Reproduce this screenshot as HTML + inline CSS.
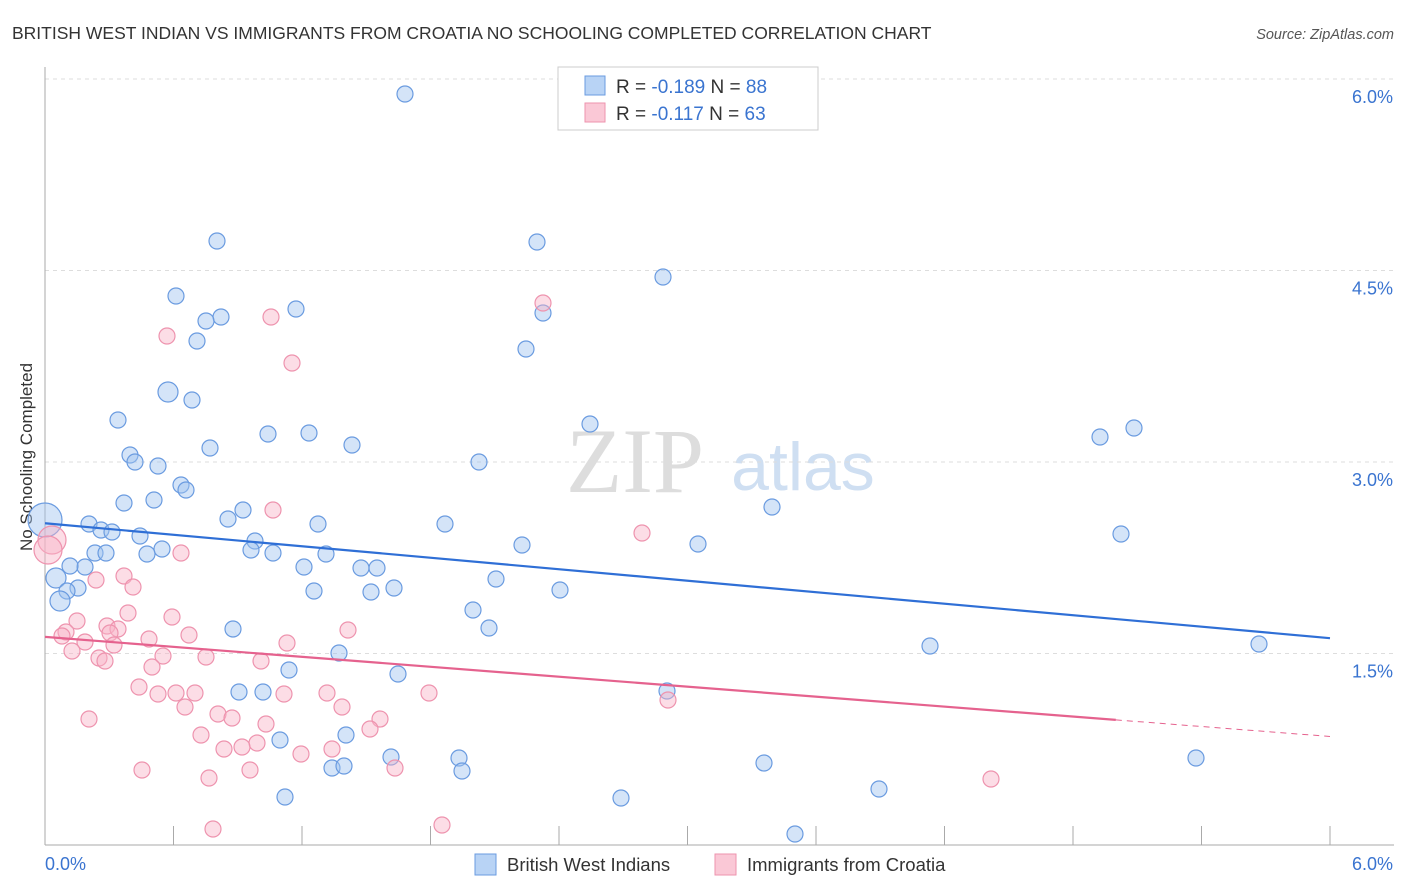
<!DOCTYPE html>
<html><head><meta charset="utf-8"><style>
body{margin:0;background:#fff;font-family:"Liberation Sans",sans-serif;}
svg{display:block}
</style></head><body>
<svg id="chart" width="1406" height="892">
<text x="12" y="39" font-size="17.5" fill="#333">BRITISH WEST INDIAN VS IMMIGRANTS FROM CROATIA NO SCHOOLING COMPLETED CORRELATION CHART</text>
<text x="1394" y="39" font-size="14.5" fill="#555" font-style="italic" text-anchor="end">Source: ZipAtlas.com</text>
<text x="32" y="457" font-size="17" fill="#333" text-anchor="middle" transform="rotate(-90 32 457)">No Schooling Completed</text>
<g><text x="635" y="492" font-size="92" fill="#ddd" font-family="Liberation Serif" text-anchor="middle">ZIP</text><text x="803" y="490" font-size="68" fill="#cfdff2" text-anchor="middle">atlas</text></g>
<g id="grid"></g><g id="axes"></g><g id="pts"></g><g id="trend"></g>
<g>
<rect x="558" y="67" width="260" height="63" fill="#fff" stroke="#ccc"/>
<rect x="585" y="76" width="20" height="19" fill="#b8d3f5" stroke="#6a9be0"/>
<rect x="585" y="103" width="20" height="19" fill="#fac8d6" stroke="#ee93ae"/>
<text x="616" y="93" font-size="19" fill="#333">R = <tspan fill="#3a74d0">-0.189</tspan>   N = <tspan fill="#3a74d0">88</tspan></text>
<text x="616" y="120" font-size="19" fill="#333">R =  <tspan fill="#3a74d0">-0.117</tspan>   N = <tspan fill="#3a74d0">63</tspan></text>
</g>
<g>
<rect x="475" y="854" width="21" height="21" fill="#b8d3f5" stroke="#6a9be0"/>
<text x="507" y="871" font-size="18.5" fill="#333">British West Indians</text>
<rect x="715" y="854" width="21" height="21" fill="#fac8d6" stroke="#ee93ae"/>
<text x="747" y="871" font-size="18.5" fill="#333">Immigrants from Croatia</text>
</g>
</svg>
<script>
const yTicks=[1.5,3.0,4.5,6.0];
const xTickLabels=["0.0%","6.0%"];
const blueX=[405,217,537,663,176,296,221,206,543,197,526,168,192,118,590,268,309,210,352,130,135,158,479,1100,1134,181,186,124,154,243,228,772,318,445,89,101,112,140,1121,255,522,698,162,251,273,95,106,147,326,304,361,377,85,70,496,56,78,67,314,371,394,560,60,473,489,233,930,1259,339,289,398,667,239,263,346,280,391,459,764,1196,332,344,462,285,621,879,795,45].map(p=>(p-45)/1285*6);
const blueY=[94,241,242,277,296,309,317,321,313,341,349,392,400,420,424,434,433,448,445,455,462,466,462,437,428,485,490,503,500,510,519,507,524,524,524,530,532,536,534,541,545,544,549,550,553,553,553,554,554,567,568,568,567,566,579,578,588,591,591,592,588,590,601,610,628,629,646,644,653,670,674,691,692,692,735,740,757,758,763,758,768,766,771,797,798,789,834,520].map(p=>(845-p)/127.67);
const pinkX=[543,271,167,292,273,642,181,52,48,124,96,133,128,172,77,107,118,66,62,110,189,149,85,287,348,72,114,163,99,105,206,152,261,139,158,176,195,185,284,327,429,342,668,89,218,232,380,266,201,370,257,224,242,332,301,142,250,395,209,991,213,442].map(p=>(p-45)/1285*6);
const pinkY=[303,317,336,363,510,533,553,540,550,576,580,587,613,617,621,626,629,632,636,633,635,639,642,643,630,651,645,656,658,661,657,667,661,687,694,693,693,707,694,693,693,707,700,719,714,718,719,724,735,729,743,749,747,749,754,770,770,768,778,779,829,825].map(p=>(845-p)/127.67);
const blueTrend=[2.52,1.62], pinkTrend=[1.63,0.85];
const X=v=>45+v/6*1285, Y=v=>845-v*127.67;
const ns="http://www.w3.org/2000/svg";
function mk(t,a,par){const e=document.createElementNS(ns,t);for(const k in a)e.setAttribute(k,a[k]);document.getElementById(par).appendChild(e);return e;}
yTicks.forEach(v=>{
 const l=mk('line',{x1:45,x2:1394,y1:Y(v),y2:Y(v),stroke:'#ddd','stroke-dasharray':'4,4'},'grid');
 
 
 const t=mk('text',{x:1393,y:Y(v)+24,'font-size':18,fill:'#3a74d0','text-anchor':'end'},'grid');
 t.textContent=v.toFixed(1)+'%';
 
 
});
mk('line',{x1:45,x2:45,y1:67,y2:845,stroke:'#aaa'},'axes');
mk('line',{x1:45,x2:1394,y1:845,y2:845,stroke:'#aaa'},'axes');
for(let i=1;i<=10;i++){const x=X(i*0.6);mk('line',{x1:x,x2:x,y1:826,y2:845,stroke:'#aaa'},'axes');}
xTickLabels.forEach((s,i)=>{const t=mk('text',{x:i?1393:45,y:870,'font-size':18,fill:'#3a74d0','text-anchor':i?'end':'start'},'axes');t.textContent=s;
 
 });
blueX.forEach((v,i)=>{const r=i==blueX.length-1?17:(i==11||i==55||i==62?10:8);
 const c=mk('circle',{cx:X(v),cy:Y(blueY[i]),r:r,fill:'rgba(160,196,240,0.45)',stroke:'#6a9be0','stroke-width':1.2},'pts');
 
 });
pinkX.forEach((v,i)=>{const r=(i==7||i==8)?14:8;
 const c=mk('circle',{cx:X(v),cy:Y(pinkY[i]),r:r,fill:'rgba(248,180,200,0.45)',stroke:'#ee93ae','stroke-width':1.2},'pts');
 
 });
const bt=mk('line',{x1:X(0),y1:Y(blueTrend[0]),x2:X(6),y2:Y(blueTrend[1]),stroke:'#2f6fd6','stroke-width':2.2},'trend');


const pm=pinkTrend[0]+(pinkTrend[1]-pinkTrend[0])*(5/6);
const pt=mk('line',{x1:X(0),y1:Y(pinkTrend[0]),x2:X(5),y2:Y(pm),stroke:'#e5628e','stroke-width':2.2},'trend');


const pd=mk('line',{x1:X(5),y1:Y(pm),x2:X(6),y2:Y(pinkTrend[1]),stroke:'#e5628e','stroke-width':1,'stroke-dasharray':'6,5'},'trend');


</script>
</body></html>
